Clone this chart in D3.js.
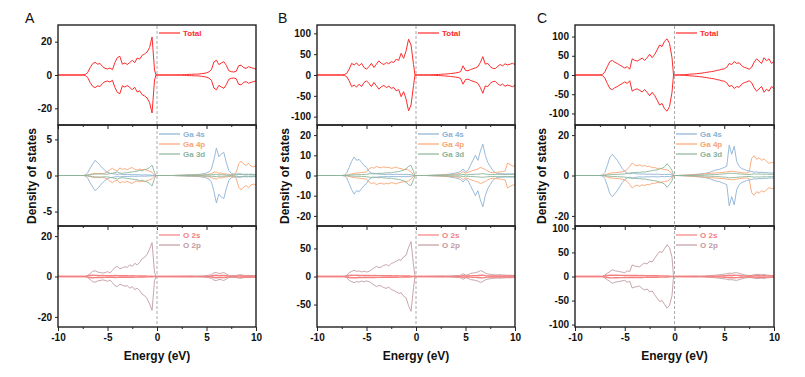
<!DOCTYPE html>
<html><head><meta charset="utf-8">
<script src="https://cdn.jsdelivr.net/npm/d3@7"></script>
<style>body{margin:0;background:#fff}svg{display:block}text{font-family:"Liberation Sans",Arial,sans-serif}</style>
</head><body><svg id="c" width="805" height="377"></svg>
<script>
// energy grid (eV)
const energy = [-10,-7.5,-7.25,-7,-6.75,-6.5,-6.25,-6,-5.75,-5.5,-5.25,-5,-4.75,-4.5,-4.25,-4,-3.75,-3.5,-3.25,-3,-2.75,-2.5,-2.25,-2,-1.75,-1.5,-1.25,-1,-0.75,-0.5,-0.25,-0.1,0,0.25,0.5,0.75,1,1.25,1.5,1.75,2,2.25,2.5,2.75,3,3.25,3.5,3.75,4,4.25,4.5,4.75,5,5.25,5.5,5.75,6,6.25,6.5,6.75,7,7.25,7.5,7.75,8,8.25,8.5,8.75,9,9.25,9.5,9.75,10];

// ---- column A ----
const totalA = [0, 0,0.3,1.5,4.5,6.8,7.6,6.5,6.9,5,4, 3.6,4.2,3.2,7.5,10.5,11.2,6.5,7.2,6.3,7.5, 8.8,7.4,10.2,9.5,11.8,12.6,13.8,16.5,22.8,3, 0, 0, 0,0,0,0,0,0.05,0.05,0.1,0.1,0.15, 0.2,0.3,0.4,0.4,0.5,0.5,0.6,0.8,1.0,1.3, 1.9,3.2,7.8,8.9,6.2,7.2,8.0,5.8,2.6,2.0, 1.8,2.2,5.6,5.9,4.4,4.0,5.0,4.4,4.0,3.6];
const ga4sA = [0, 0,0.05,0.4,1.0,1.6,2.1,1.8,1.4,1.0,0.7, 0.45,0.3,0.25,0.2,0.15,0.2,0.15,0.12,0.15,0.12, 0.1,0.12,0.1,0.1,0.08,0.1,0.08,0.06,0.05,0.02, 0, 0, 0,0,0,0,0,0,0,0.02,0.03,0.05, 0.06,0.08,0.1,0.1,0.12,0.15,0.15,0.2,0.25,0.35, 0.5,0.9,2.2,3.8,2.6,3.0,3.2,1.8,0.7,0.3, 0.2,0.2,0.25,0.2,0.15,0.2,0.15,0.2,0.15,0.15];
const ga4pA = [0, 0,0.02,0.08,0.15,0.25,0.3,0.25,0.3,0.25,0.35, 0.5,0.8,1.0,0.75,0.65,1.05,0.85,0.95,0.8,1.0, 1.1,0.85,0.75,0.9,0.8,0.85,0.7,0.6,0.45,0.1, 0, 0, 0,0,0,0,0,0,0.02,0.02,0.03,0.03, 0.04,0.05,0.05,0.06,0.06,0.07,0.08,0.08,0.1,0.12, 0.18,0.25,0.45,0.5,0.3,0.35,0.25,0.2,0.15,0.12, 0.15,0.4,1.6,2.0,1.6,1.4,1.7,1.3,1.2,1.3];
const ga3dA = [0, 0,0.01,0.05,0.1,0.15,0.2,0.2,0.22,0.2,0.18, 0.2,0.25,0.3,0.4,0.5,0.35,0.3,0.35,0.4,0.45, 0.5,0.55,0.6,0.7,0.65,0.8,0.9,1.1,1.45,0.4, 0, 0, 0,0,0,0,0,0,0,0.01,0.01,0.02, 0.02,0.03,0.03,0.04,0.04,0.05,0.05,0.06,0.07,0.08, 0.08,0.1,0.12,0.15,0.1,0.12,0.1,0.08,0.06,0.05, 0.06,0.1,0.15,0.18,0.12,0.1,0.12,0.1,0.1,0.08];
const o2sA = [0, 0,0.05,0.3,0.5,0.6,0.55,0.5,0.45,0.5,0.45, 0.4,0.45,0.4,0.5,0.45,0.4,0.35,0.4,0.35,0.3, 0.35,0.3,0.3,0.25,0.3,0.25,0.2,0.2,0.15,0.05, 0, 0, 0,0,0,0,0,0,0,0,0.01,0.01, 0.02,0.02,0.03,0.03,0.04,0.05,0.05,0.06,0.08,0.1, 0.15,0.25,0.5,0.6,0.45,0.5,0.55,0.4,0.2,0.1, 0.1,0.12,0.3,0.35,0.25,0.2,0.25,0.2,0.2,0.18];
const o2pA = [0, 0,0.1,0.5,1.5,2.6,2.8,2.2,2.0,1.7,1.9, 2.4,1.8,3.0,4.5,5.0,3.8,4.3,4.8,4.5,5.8, 5.0,6.5,5.8,7.0,8.8,9.5,11.0,13.5,16.8,2.0, 0, 0, 0,0,0,0,0,0,0.02,0.03,0.05,0.06, 0.08,0.1,0.12,0.14,0.16,0.18,0.2,0.25,0.3,0.45, 0.6,0.9,1.8,2.0,1.5,1.6,2.0,1.2,0.6,0.4, 0.4,0.5,0.8,0.8,0.6,0.5,0.55,0.5,0.45,0.4];

// ---- column B ----
const totalB = [0, 0,1,4,14,28,24,29,22,28,18, 14,20,28,18,26,34,28,25,30,27, 32,30,38,35,52,40,58,86,72,25, 0, 0, 0,0,0.1,0.2,0.3,0.5,0.7,1,1.3,1.6, 2,2.4,3,3.5,4.2,5,6,8,22,11, 10,13,15,17,20,30,44,26,28,20, 16,15,21,25,22,27,24,26,28,25];
const ga4sB = [0, 0,0.2,1.2,4,7,9.2,7.5,8,6.5,5, 4,2,1.2,1.0,0.8,0.7,0.6,0.6,0.5,0.6, 0.5,0.5,0.6,0.5,0.6,0.5,0.6,0.5,0.4,0.1, 0, 0, 0,0,0,0,0.05,0.1,0.15,0.2,0.25,0.3, 0.4,0.5,0.6,0.8,1.0,1.2,1.5,2.0,3.2,1.8, 2.5,5,7.5,10,7.5,12,15.5,10,6.5,4.5, 2.5,1.5,1.0,0.8,0.9,0.7,0.8,0.7,0.8,0.7];
const ga4pB = [0, 0,0.05,0.2,0.5,0.8,1.0,1.2,1.3,1.5,1.6, 1.8,3.2,4.0,3.6,4.5,4.0,3.8,4.3,3.9,4.1, 3.5,3.8,4.2,3.6,3.4,3.0,3.2,2.6,1.8,0.4, 0, 0, 0,0,0,0,0.05,0.1,0.12,0.15,0.2,0.25, 0.3,0.35,0.4,0.5,0.6,0.7,0.8,1.0,2.0,1.2, 1.5,2.0,2.5,2.8,3.2,4.0,3.5,3.0,2.2,1.6, 1.4,1.5,1.6,1.8,2.0,2.2,6.2,5.4,4.8,4.6];
const ga3dB = [0, 0,0.02,0.1,0.2,0.3,0.35,0.4,0.4,0.45,0.5, 0.6,0.8,0.9,0.8,1.0,1.1,1.0,1.2,1.3,1.4, 1.3,1.6,1.8,1.9,2.3,2.6,3.2,4.6,5.0,2.0, 0, 0, 0,0,0,0,0,0,0.05,0.08,0.1,0.12, 0.15,0.18,0.2,0.22,0.25,0.28,0.3,0.32,0.5,0.35, 0.4,0.5,0.55,0.6,0.65,0.8,0.9,0.7,0.6,0.5, 0.5,0.5,0.55,0.6,0.55,0.5,0.6,0.55,0.6,0.5];
const o2sB = [0, 0,0.2,1.0,1.8,2.2,2.0,2.1,1.9,2.0,1.8, 1.7,1.8,1.6,1.7,1.6,1.5,1.6,1.4,1.5,1.3, 1.4,1.2,1.3,1.1,1.2,1.0,1.0,0.8,0.6,0.2, 0, 0, 0,0,0,0,0,0,0.02,0.05,0.08,0.1, 0.12,0.15,0.2,0.25,0.3,0.35,0.4,0.5,1.5,0.8, 0.9,1.2,1.5,1.6,1.8,2.2,2.5,1.6,1.2,0.9, 0.8,0.8,0.9,1.0,0.9,0.8,0.9,0.8,0.8,0.7];
const o2pB = [0, 0,0.3,2,7,9,11,9,10,8,9.5, 8,9,12,15,18,16,17,20,21,19, 23,25,27,30,29,35,38,52,62,20, 0, 0, 0,0,0,0.05,0.1,0.15,0.2,0.3,0.4,0.5, 0.6,0.7,0.8,1.0,1.2,1.5,1.8,2.2,5.0,2.5, 3.0,5.5,6.0,7.0,8.0,10.5,9.0,6.0,4.5,4.0, 3.2,3.0,2.8,3.2,2.6,2.5,2.2,2.4,2.0,2.0];

// ---- column C ----
const totalC = [0, 0,1,8,22,35,38,33,30,26,22, 18,22,15,42,38,36,40,44,38,45, 54,45,53,65,78,74,88,94,82,45, 0, 0, 0,0.2,0.5,1,1.5,2,2.5,3,3.5,4.2, 5,6,7,8,9,10,12,13,15,16, 20,30,27,35,30,32,24,20,18,15, 20,33,42,36,30,45,37,42,30,35];
const ga4sC = [0, 0,0.2,1.5,5,9,10.5,9,7.5,5.5,3.5, 2,1.2,0.8,1.2,1.0,0.8,0.7,0.8,0.7,0.6, 0.7,0.6,0.6,0.7,0.6,0.5,0.6,0.5,0.6,0.3, 0, 0, 0,0.05,0.1,0.15,0.2,0.3,0.4,0.5,0.6,0.7, 0.8,1.0,1.2,1.5,2.0,2.5,2.8,3.0,3.5,4.0, 4.5,15,10.5,14.5,7,4.5,3.5,3,2.5,2.2, 2.0,1.6,1.8,1.5,1.6,1.4,1.5,1.2,1.3,1.2];
const ga4pC = [0, 0,0.05,0.3,0.8,1.2,1.3,1.4,1.5,1.6,1.8, 2.2,3,4.5,6.2,5.2,4.8,5.3,4.6,5.0,4.4, 4.6,3.8,4.0,3.5,3.6,3.2,3.0,2.8,2.2,0.8, 0, 0, 0,0.05,0.1,0.15,0.2,0.3,0.35,0.4,0.5,0.6, 0.7,0.8,0.9,1.0,1.1,1.2,1.3,1.4,1.5,1.6, 1.8,2.0,2.1,2.0,1.8,1.6,1.4,1.3,1.2,1.6, 8.5,9.8,8.0,8.8,7.5,8.2,7.0,6.0,6.5,6.2];
const ga3dC = [0, 0,0.02,0.1,0.3,0.4,0.5,0.5,0.6,0.6,0.7, 0.8,1.0,1.2,1.5,1.4,1.6,1.5,1.8,1.7,2.0, 2.2,2.4,2.6,2.8,3.2,3.6,4.2,5.8,4.5,2.5, 0, 0, 0,0,0.02,0.04,0.06,0.08,0.1,0.12,0.15,0.18, 0.2,0.25,0.3,0.35,0.4,0.45,0.5,0.6,0.7,0.8, 0.9,1.2,1.0,1.1,0.9,0.8,0.7,0.6,0.5,0.5, 0.6,0.8,0.7,0.8,0.7,0.6,0.7,0.6,0.6,0.5];
const o2sC = [0, 0,0.2,1.0,2.0,2.6,2.8,2.6,2.5,2.4,2.3, 2.2,2.4,2.0,2.2,2.1,2.0,1.9,2.0,1.8,1.7, 1.8,1.6,1.5,1.6,1.4,1.3,1.2,1.0,0.8,0.3, 0, 0, 0,0,0,0,0.02,0.05,0.08,0.1,0.15,0.2, 0.25,0.3,0.4,0.5,0.6,0.7,0.8,1.0,1.2,1.5, 1.8,2.5,2.2,2.6,2.4,2.2,1.6,1.2,1.0,0.9, 1.0,1.4,1.8,1.6,1.3,1.5,1.3,1.2,1.0,1.0];
const o2pC = [0, 0,0.3,3,7,10,14,12,11,10,9, 8,12,10,24,22,21,20,25,28,26, 32,30,38,45,52,50,58,66,60,40, 0, 0, 0,0,0.05,0.1,0.15,0.2,0.3,0.4,0.5,0.6, 0.8,1.0,1.2,1.5,2.0,2.5,3.0,3.5,4.0,5.0, 5.5,7.0,6.5,7.5,8.0,6.5,5.0,3.5,2.5,2.2, 2.5,3.5,4.5,4.0,3.5,4.2,3.0,2.5,2.2,2.0];

// axis ticks and labels
const xTicks = [-10,-5,0,5,10];
const xMinor = [-7.5,-2.5,2.5,7.5];
const panelLetters = ["A","B","C"];
const seriesNames = [["Total"],["Ga 4s","Ga 4p","Ga 3d"],["O 2s","O 2p"]];
const yDomains = [[[-30,30],[-7,7],[-25,25]],[[-120,120],[-25,25],[-90,90]],[[-130,130],[-25,25],[-105,105]]];
const yTicks = [[[20,0,-20],[5,0,-5],[20,0,-20]],[[100,50,0,-50,-100],[20,10,0,-10,-20],[50,0,-50]],[[100,50,0,-50,-100],[20,0,-20],[100,50,0,-50,-100]]];
const seriesData = [
  [[totalA],[ga4sA,ga4pA,ga3dA],[o2sA,o2pA]],
  [[totalB],[ga4sB,ga4pB,ga3dB],[o2sB,o2pB]],
  [[totalC],[ga4sC,ga4pC,ga3dC],[o2sC,o2pC]]
];
const seriesColors = [["#ff2a2a"],["#8cb2d4","#f9a470","#8bb49a"],["#f58080","#c09ba0"]];

// layout
const colX = [[58,256],[317,515],[575,774]];
const panelY = [[25,125],[125,226],[226,327]];
const yLabelX = [32,285,542];
const letterX = [25,278,537];
const axisColor = "#222";

const svg = d3.select("#c");
const defs = svg.append("defs");

seriesData.forEach(col => col.forEach(p => p.forEach(s => { if (s.length !== energy.length) throw new Error("length " + s.length); })));

colX.forEach(([x0,x1], ci) => {
  const x = d3.scaleLinear().domain([-10,10]).range([x0,x1]);
  panelY.forEach(([y0,y1], pi) => {
    const y = d3.scaleLinear().domain(yDomains[ci][pi]).range([y1,y0]);
    const clipId = `clip${ci}${pi}`;
    defs.append("clipPath").attr("id",clipId).append("rect")
      .attr("x",x0).attr("y",y0).attr("width",x1-x0).attr("height",y1-y0);
    const pg = svg.append("g").attr("clip-path",`url(#${clipId})`);
    const order = pi === 2 ? [1,0] : seriesData[ci][pi].map((_,i)=>i);
    order.forEach(si => {
      const vals = seriesData[ci][pi][si];
      const sw = pi === 0 ? 1 : (pi === 2 && si === 0 ? 1.4 : 0.9);
      [1,-1].forEach(sign => {
        const line = d3.line().x((d,i)=>x(energy[i])).y(d=>y(sign*d));
        pg.append("path").datum(vals).attr("d",line).attr("fill","none")
          .attr("stroke",seriesColors[pi][si]).attr("stroke-width",sw)
          .attr("stroke-linejoin","round");
      });
    });
    const ya = svg.append("g").attr("transform",`translate(${x0},0)`)
      .call(d3.axisLeft(y).tickValues(yTicks[ci][pi]).tickSize(3).tickPadding(3).tickFormat(d=>String(d)));
    ya.select(".domain").remove();
    ya.selectAll("line").attr("stroke",axisColor).attr("stroke-width",1);
    ya.selectAll("text").attr("font-size",10).attr("font-weight","bold").attr("fill","#111")
      .attr("font-family","Liberation Sans, Arial, sans-serif");
    const xa = svg.append("g").attr("transform",`translate(0,${y1})`)
      .call(d3.axisBottom(x).tickValues(xTicks).tickSize(4).tickPadding(3).tickFormat(pi===2 ? (d=>String(d)) : ()=>""));
    xa.select(".domain").remove();
    xa.selectAll("line").attr("stroke",axisColor).attr("stroke-width",1);
    xa.selectAll("text").attr("font-size",10).attr("font-weight","bold").attr("fill","#111")
      .attr("font-family","Liberation Sans, Arial, sans-serif");
    const xm = svg.append("g").attr("transform",`translate(0,${y1})`)
      .call(d3.axisBottom(x).tickValues(xMinor).tickSize(2).tickFormat(()=>""));
    xm.select(".domain").remove();
    xm.selectAll("line").attr("stroke",axisColor).attr("stroke-width",1);
    svg.append("rect").attr("x",x0).attr("y",y0).attr("width",x1-x0).attr("height",y1-y0)
      .attr("fill","none").attr("stroke",axisColor).attr("stroke-width",1.4);
    const lx = x0 + 101;
    const ly0 = pi === 0 ? y0 + 8 : y0 + 9;
    seriesNames[pi].forEach((nm, si) => {
      const ly = ly0 + si*10;
      svg.append("line").attr("x1",lx).attr("x2",lx+21).attr("y1",ly).attr("y2",ly)
        .attr("stroke",seriesColors[pi][si]).attr("stroke-width",1.2);
      svg.append("text").attr("x",lx+24).attr("y",ly).attr("dy","0.35em")
        .attr("font-size",8).attr("font-weight","bold").attr("fill",seriesColors[pi][si]).text(nm);
    });
  });
  svg.append("line").attr("x1",x(0)).attr("x2",x(0)).attr("y1",panelY[0][0]+1).attr("y2",panelY[2][1]-1)
    .attr("stroke","#aaa").attr("stroke-width",1).attr("stroke-dasharray","3,2");
  svg.append("text").attr("x",(x0+x1)/2).attr("y",360).attr("text-anchor","middle")
    .attr("font-size",12).attr("font-weight","bold").attr("fill","#111").text("Energy (eV)");
  svg.append("text").attr("transform",`translate(${yLabelX[ci]},176) rotate(-90)`).attr("text-anchor","middle")
    .attr("dy","0.35em").attr("font-size",12).attr("font-weight","bold").attr("fill","#111").text("Density of states");
  svg.append("text").attr("x",letterX[ci]).attr("y",23).attr("font-size",14).attr("fill","#111").text(panelLetters[ci]);
});
</script></body></html>
